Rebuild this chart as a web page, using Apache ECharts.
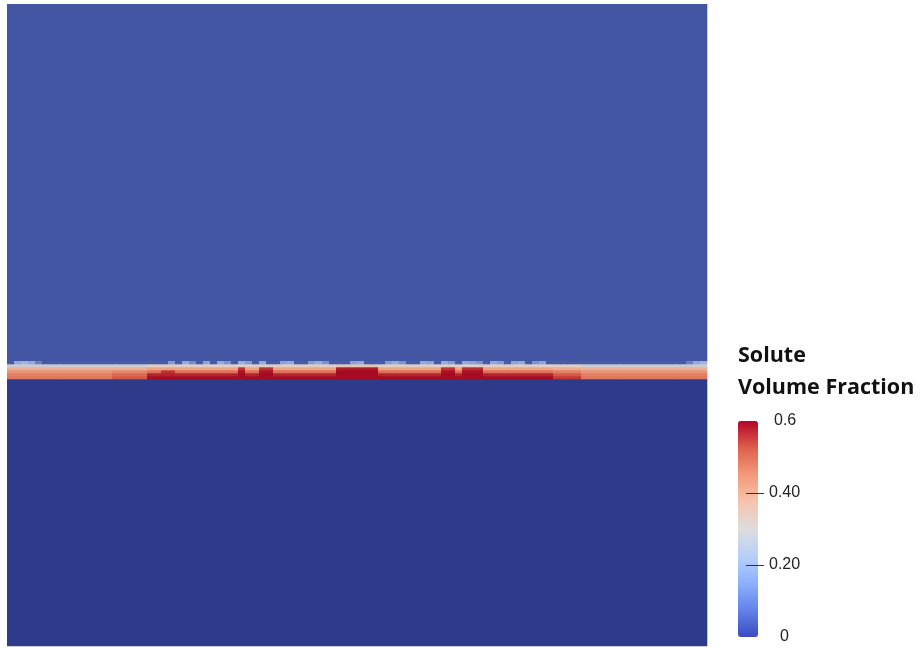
<!DOCTYPE html>
<html>
<head>
<meta charset="utf-8">
<script src="https://cdn.jsdelivr.net/npm/echarts@6/dist/echarts.min.js"></script>
<style>html,body{margin:0;padding:0;background:#fff;}#c{width:923px;height:648px;}</style>
</head>
<body>
<div id="c"></div>
<script>
// ---- data ----
const nCols = 100;                 // columns across the domain
const bottomValue = 0.0;           // lower phase (solute free)
const topValue = 0.07;             // upper phase
const bottomTop = 89;              // row where the interface band starts
const bandTop = 95;                // row where the interface band ends
const domainTop = 214;             // top of the domain (rows)

// interface band rows, from lowest (r0) to highest (r5), one value per column
const band_r0 = [0.46,0.46,0.46,0.46,0.46,0.46,0.46,0.46,0.46,0.46, 0.46,0.46,0.46,0.46,0.46,0.5,0.5,0.5,0.5,0.5,
  0.6,0.6,0.6,0.6,0.6,0.6,0.6,0.6,0.6,0.6, 0.6,0.6,0.6,0.6,0.6,0.6,0.6,0.6,0.6,0.6,
  0.6,0.6,0.6,0.6,0.6,0.6,0.6,0.6,0.6,0.6, 0.6,0.6,0.6,0.6,0.6,0.6,0.6,0.6,0.6,0.6,
  0.6,0.6,0.6,0.6,0.6,0.6,0.6,0.6,0.6,0.6, 0.6,0.6,0.6,0.6,0.6,0.6,0.6,0.6,0.54,0.54,
  0.54,0.54,0.46,0.46,0.46,0.46,0.46,0.46,0.46,0.46, 0.46,0.46,0.46,0.46,0.46,0.46,0.46,0.46,0.46,0.46];
const band_r1 = [0.45,0.45,0.45,0.45,0.45,0.45,0.45,0.45,0.45,0.45, 0.45,0.45,0.45,0.45,0.45,0.48,0.48,0.48,0.48,0.48,
  0.57,0.57,0.57,0.57,0.57,0.57,0.57,0.57,0.57,0.57, 0.57,0.57,0.57,0.6,0.57,0.57,0.6,0.6,0.57,0.57,
  0.57,0.57,0.57,0.57,0.57,0.57,0.57,0.6,0.6,0.6, 0.6,0.6,0.6,0.57,0.57,0.57,0.57,0.57,0.57,0.57,
  0.57,0.57,0.6,0.6,0.57,0.6,0.6,0.6,0.57,0.57, 0.57,0.57,0.57,0.57,0.57,0.57,0.57,0.57,0.5,0.5,
  0.5,0.5,0.45,0.45,0.45,0.45,0.45,0.45,0.45,0.45, 0.45,0.45,0.45,0.45,0.45,0.45,0.45,0.45,0.45,0.45];
const band_r2 = [0.42,0.42,0.42,0.42,0.42,0.42,0.42,0.42,0.42,0.42, 0.42,0.42,0.42,0.42,0.42,0.44,0.44,0.44,0.44,0.44,
  0.47,0.47,0.55,0.55,0.47,0.47,0.47,0.47,0.47,0.47, 0.47,0.47,0.47,0.59,0.47,0.47,0.59,0.59,0.47,0.47,
  0.47,0.47,0.47,0.47,0.47,0.47,0.47,0.6,0.6,0.6, 0.6,0.6,0.6,0.47,0.47,0.47,0.47,0.47,0.47,0.47,
  0.47,0.47,0.59,0.59,0.47,0.59,0.59,0.59,0.47,0.47, 0.47,0.47,0.47,0.47,0.47,0.47,0.47,0.47,0.45,0.45,
  0.45,0.45,0.42,0.42,0.42,0.42,0.42,0.42,0.42,0.42, 0.42,0.42,0.42,0.42,0.42,0.42,0.42,0.42,0.42,0.42];
const band_r3 = [0.37,0.37,0.37,0.37,0.37,0.37,0.37,0.37,0.37,0.37, 0.37,0.37,0.37,0.37,0.37,0.37,0.37,0.37,0.37,0.37,
  0.4,0.4,0.4,0.4,0.4,0.4,0.4,0.4,0.4,0.4, 0.4,0.4,0.4,0.55,0.4,0.4,0.55,0.55,0.4,0.4,
  0.4,0.4,0.4,0.4,0.4,0.4,0.4,0.58,0.58,0.58, 0.58,0.58,0.58,0.4,0.4,0.4,0.4,0.4,0.4,0.4,
  0.4,0.4,0.55,0.55,0.4,0.56,0.56,0.56,0.4,0.4, 0.4,0.4,0.4,0.4,0.4,0.4,0.4,0.4,0.38,0.38,
  0.38,0.38,0.37,0.37,0.37,0.37,0.37,0.37,0.37,0.37, 0.37,0.37,0.37,0.37,0.37,0.37,0.37,0.37,0.37,0.37];
const band_r4 = [0.28,0.28,0.28,0.28,0.28,0.28,0.28,0.28,0.28,0.28, 0.28,0.28,0.28,0.28,0.28,0.28,0.28,0.28,0.28,0.28,
  0.31,0.31,0.31,0.31,0.31,0.31,0.31,0.31,0.31,0.31, 0.31,0.31,0.31,0.31,0.31,0.31,0.31,0.31,0.31,0.31,
  0.31,0.31,0.31,0.31,0.31,0.31,0.31,0.33,0.33,0.33, 0.33,0.33,0.33,0.31,0.31,0.31,0.31,0.31,0.31,0.31,
  0.31,0.31,0.31,0.31,0.31,0.31,0.31,0.31,0.31,0.31, 0.31,0.31,0.31,0.31,0.31,0.31,0.31,0.31,0.31,0.31,
  0.31,0.31,0.28,0.28,0.28,0.28,0.28,0.28,0.28,0.28, 0.28,0.28,0.28,0.28,0.28,0.28,0.28,0.28,0.28,0.28];
const band_r5 = [0.08,0.2,0.22,0.2,0.14,0.08,0.08,0.08,0.08,0.08, 0.08,0.08,0.08,0.08,0.08,0.08,0.08,0.08,0.08,0.08,
  0.08,0.08,0.08,0.18,0.08,0.2,0.16,0.08,0.19,0.08, 0.2,0.17,0.08,0.21,0.18,0.08,0.2,0.08,0.08,0.19,
  0.2,0.08,0.08,0.18,0.21,0.17,0.08,0.08,0.08,0.19, 0.2,0.08,0.08,0.08,0.18,0.2,0.17,0.08,0.08,0.2,
  0.19,0.08,0.21,0.18,0.08,0.2,0.19,0.17,0.08,0.2, 0.18,0.08,0.19,0.2,0.08,0.17,0.19,0.08,0.08,0.08,
  0.08,0.08,0.08,0.08,0.08,0.08,0.08,0.08,0.08,0.08, 0.08,0.08,0.08,0.08,0.08,0.08,0.08,0.14,0.2,0.22];
const bandRows = [band_r0, band_r1, band_r2, band_r3, band_r4, band_r5];

const colorbarMin = 0;
const colorbarMax = 0.6;
const colorbarTickValues = [0, 0.2, 0.4, 0.6];
const colorbarTickLabels = ['0', '0.20', '0.40', '0.6'];
const colorbarMarkValues = [0.2, 0.4];
const legendTitle = 'Solute\nVolume Fraction';

// ---- build the table the custom series needs: [x0, x1, y0, y1, value] ----
const cells = [];
cells.push([0, nCols, 0, bottomTop, bottomValue]);
cells.push([0, nCols, bandTop, domainTop, topValue]);
bandRows.forEach(function (row, r) {
  row.forEach(function (v, c) {
    cells.push([c, c + 1, bottomTop + r, bottomTop + r + 1, v]);
  });
});

const labelFont = "'Liberation Sans', 'Roboto', sans-serif";
const chart = echarts.init(document.getElementById('c'), null, {renderer: 'canvas'});
chart.setOption({
  backgroundColor: '#ffffff',
  animation: false,
  title: {
    text: legendTitle,
    left: 738, top: 340, padding: 0,
    textStyle: {fontFamily: "'Open Sans', 'Noto Sans', sans-serif", fontWeight: 'bold', fontSize: 21.5, lineHeight: 32, color: '#111'}
  },
  grid: [
    {left: 7, top: 4, width: 700, height: 642},
    {left: 738, top: 421, width: 20, height: 216}
  ],
  xAxis: [
    {type: 'value', gridIndex: 0, min: 0, max: nCols, show: false},
    {type: 'value', gridIndex: 1, min: 0, max: 1, show: false}
  ],
  yAxis: [
    {type: 'value', gridIndex: 0, min: 0, max: domainTop, show: false},
    {
      type: 'value', gridIndex: 1, min: colorbarMin, max: colorbarMax,
      position: 'right', offset: -8, z: 10,
      axisLine: {show: false},
      splitLine: {show: false},
      axisTick: {show: true, inside: false, length: 18, customValues: colorbarMarkValues, lineStyle: {color: '#333', width: 1}},
      axisLabel: {
        customValues: colorbarTickValues, margin: 19,
        fontFamily: labelFont,
        fontSize: 16, color: '#222',
        formatter: function (v) {
          const i = colorbarTickValues.findIndex(function (t) { return Math.abs(t - v) < 1e-9; });
          const s = i >= 0 ? colorbarTickLabels[i] : '';
          if (s === '0') return '{z|' + s + '}';
          if (s === '0.6') return '{t|' + s + '}';
          return s;
        },
        rich: {
          z: {padding: [0, 0, 0, 11], fontSize: 16, fontFamily: labelFont, color: '#222'},
          t: {padding: [0, 0, 0, 5], fontSize: 16, fontFamily: labelFont, color: '#222'}
        }
      }
    }
  ],
  visualMap: [
    {
      type: 'continuous', show: false, seriesIndex: 0, dimension: 4,
      min: colorbarMin, max: colorbarMax,
      inRange: {color: ['#2e3a8a', '#4c62ae', '#93a8dc', '#dcd3cc', '#eea383', '#d55a45', '#a50b22']}
    },
    {
      type: 'continuous', show: true, seriesIndex: 1,
      min: colorbarMin, max: colorbarMax, calculable: false, hoverLink: false,
      orient: 'vertical', left: 738, top: 421, padding: 0,
      itemWidth: 20, itemHeight: 216,
      text: null,
      inRange: {color: ['#3b4cc0', '#6282ea', '#8db0fe', '#b8d0f9', '#dddddd', '#f5c4ad', '#f49a7b', '#de604d', '#b40426']}
    }
  ],
  series: [
    {
      type: 'custom', xAxisIndex: 0, yAxisIndex: 0,
      encode: {x: [0, 1], y: [2, 3]},
      data: cells,
      renderItem: function (params, api) {
        const p0 = api.coord([api.value(0), api.value(3)]);
        const p1 = api.coord([api.value(1), api.value(2)]);
        return {
          type: 'rect',
          shape: {x: p0[0], y: p0[1], width: p1[0] - p0[0] + 0.3, height: p1[1] - p0[1] + 0.3},
          style: {fill: api.visual('color')}
        };
      }
    },
    {type: 'line', xAxisIndex: 1, yAxisIndex: 1, data: [], silent: true}
  ]
});
</script>
</body>
</html>
